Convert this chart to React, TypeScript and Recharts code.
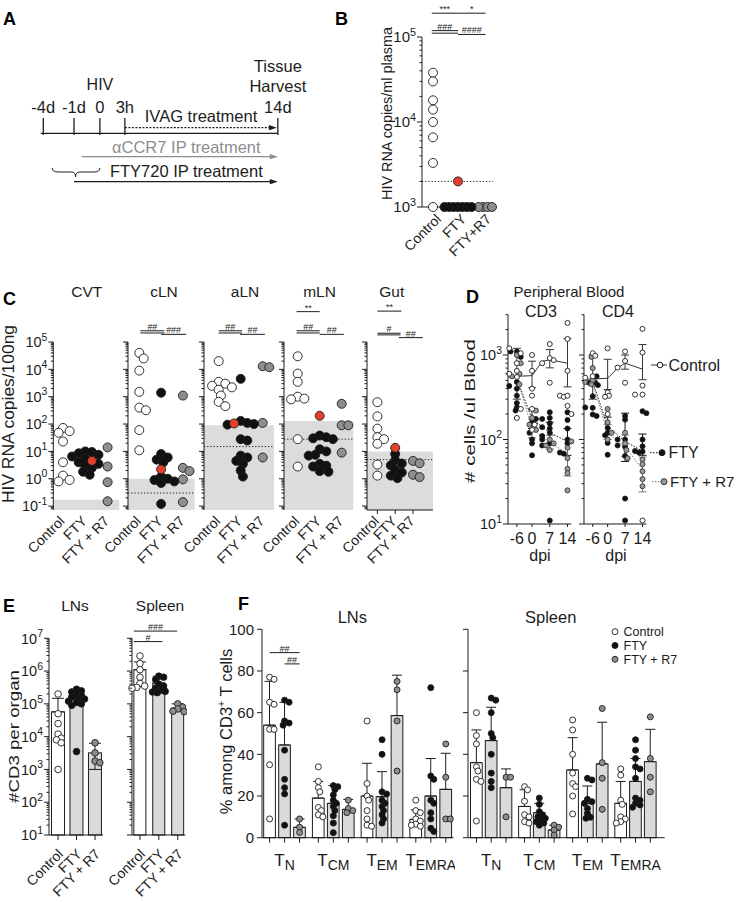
import React from 'react';
import {
  ComposedChart, Scatter, Bar, Line, XAxis, YAxis, ReferenceArea, ReferenceLine, ReferenceDot, ErrorBar,
} from 'recharts';

const FONT = '"Liberation Sans", Arial, Helvetica, sans-serif';
const INK = '#1c1c1c';
const WHITE = '#ffffff';
const BLACK = '#111111';
const GREY = '#8e8e8e';
const RED = '#e2402c';
const BAR_GREY = '#dadada';
const LOD_GREY = '#dcdcdc';

// ---------- A: treatment timeline ----------
const timelineLabels = ['-4d', '-1d', '0', '3h', '14d'];
const timelineSlots = [0, 0.96, 1.77, 2.55, 7.33];

// ---------- B: plasma viral load ----------
const bGroups = ['Control', 'FTY', 'FTY+R7'];
const bControl = [38000, 30000, 18000, 14000, 10000, 6600, 3300, 1000];
const bFty = [1000, 1000, 1000, 1000, 1000, 1000, 1000];
const bFtyRed = [2000];
const bR7 = [1000, 1000, 1000, 1000];
const bLimit = 2000;
const bSig = [
  { x1: -0.05, x2: 1, y: 5.28, t: '***' },
  { x1: 1, x2: 2.1, y: 5.28, t: '*' },
  { x1: -0.05, x2: 1, y: 5.075, t: '###' },
  { x1: -0.05, x2: 1, y: 5.045, t: '' },
  { x1: 1, x2: 2.1, y: 5.03, t: '####' },
];

// ---------- C: tissue viral RNA ----------
const cGroups = ['Control', 'FTY', 'FTY + R7'];
const cTissues = ['CVT', 'cLN', 'aLN', 'mLN', 'Gut'];
const cControl = [
  [72, 55, 48, 23, 4, 1.3, 0.9, 0.8],
  [40000, 25000, 9000, 1500, 400, 320, 60, 11],
  [20000, 3500, 3000, 2500, 2200, 1800, 1100, 650, 450],
  [30000, 7000, 3500, 1000, 850, 800, 28, 2.8],
  [630, 190, 68, 33, 28, 19, 3.3, 1.3],
];
const cFty = [
  [10, 9.5, 8.5, 7.5, 6.5, 5.5, 4, 3.5, 3, 2.5, 1.8, 1.4],
  [1400, 8, 6, 5, 4, 1.2, 1.0, 0.9, 0.8, 0.7, 0.12],
  [4500, 130, 110, 100, 95, 28, 25, 7, 6, 4.5, 3.5, 2, 1.2],
  [38, 33, 30, 28, 12, 10, 7.5, 7, 3.5, 3, 2.8, 1.9, 1.8],
  [8, 4.7, 3.6, 3.1, 2.1, 1.7, 1.3, 1.05],
];
const cFtyRed = [4.5, 2.2, 105, 200, 13.5];
const cR7 = [
  [14, 2.8, 0.75, 0.15],
  [1100, 2.5, 1.9, 0.95, 0.14],
  [13000, 12000, 110, 6],
  [550, 90, 90, 9],
  [4.5, 3.7, 1.4, 1.15],
];
const cDetection = [0.17, 1.0, 90, 130, 10];
const cDotted = [null, 0.3, 15, 28, 5];
const cSig = [
  [],
  [{ x1: 0.05, x2: 1.15, y: 5.41, t: '##' }, { x1: 0.05, x2: 1.15, y: 5.33, t: '' }, { x1: 1.0, x2: 2.15, y: 5.28, t: '###' }],
  [{ x1: 0, x2: 1.06, y: 5.41, t: '##' }, { x1: 0, x2: 1.06, y: 5.33, t: '' }, { x1: 0.97, x2: 2.1, y: 5.28, t: '##' }],
  [{ x1: -0.05, x2: 1, y: 6.11, t: '**' }, { x1: -0.05, x2: 1, y: 5.41, t: '##' }, { x1: -0.05, x2: 1, y: 5.33, t: '' }, { x1: 1, x2: 2.1, y: 5.28, t: '##' }],
  [{ x1: 0, x2: 1.35, y: 6.13, t: '**' }, { x1: 0, x2: 1.3, y: 5.32, t: '#' }, { x1: 0, x2: 1.3, y: 5.26, t: '' }, { x1: 1.2, x2: 2.55, y: 5.16, t: '##' }],
];

// ---------- D: peripheral blood ----------
const dpiDays = [-9, -6, 0, 4, 7, 11, 14];
const dpiTicks = [-6, 0, 7, 14];
const cd3CtrlMean = [560, 560, 570, 840, 880, null, 800];
const cd3FtyMean = [560, 520, 175, null, 120, null, 95];
const cd3R7Mean = [560, 540, 135, null, 92, null, 68];
const cd3CtrlErr = [null, [260, 640], [160, 275], null, [175, 280], null, [380, 760]];
const cd3FtyErr = [null, null, [40, 50], null, [30, 40], null, [30, 40]];
const cd3R7Err = [null, null, [30, 40], null, [15, 20], null, [31, 32]];
const cd3CtrlPts = [[1200, 600], [1050, 800, 650, 550, 230, 180], [1000, 650, 400, 330, 230, 150, 130], [800], [1350, 920, 870, 470], [330, 320], [2400, 1550, 650, 330, 250, 200]];
const cd3FtyPts = [[1100, 430], [1100, 950, 480, 400, 330, 270, 240, 220], [175, 160, 120, 100, 90, 65], [175, 140, 110, 100, 85], [210, 180, 155, 135, 120, 90, 11], [70, 68], [210, 170, 135, 100, 90]];
const cd3R7Pts = [[560], [1000, 800, 600, 450], [220, 180, 150, 130], [], [100, 90, 85, 75], [], [95, 80, 60, 45, 40, 25]];
const cd4CtrlMean = [520, 520, 530, 700, 800, null, 680];
const cd4FtyMean = [470, 480, 144, null, 95, null, 73];
const cd4R7Mean = [470, 460, 120, null, 83, null, 44];
const cd4CtrlErr = [null, [220, 480], [140, 360], null, [120, 200], null, [170, 650]];
const cd4FtyErr = [null, null, [30, 40], null, [40, 110], null, [8, 43]];
const cd4R7Err = [null, null, [20, 30], null, [20, 30], null, [20, 18]];
const cd4CtrlPts = [[540], [1050, 980, 560], [1200, 360, 330, 320, 200], [710], [1100, 850, 470], [340], [2040, 1070, 435, 340, 11]];
const cd4FtyPts = [[470, 240], [560, 470, 440, 325, 237, 198, 190], [137, 120, 112, 91, 66], [100, 85], [190, 172, 100, 82, 64, 20, 11], [73, 70], [216, 205, 100, 83, 72]];
const cd4R7Pts = [[480], [950, 700, 500, 450], [230, 160, 120, 100], [], [120, 90, 75, 60], [], [58, 51, 42, 34, 28]];
const dLegend = ['Control', 'FTY', 'FTY + R7'];

// ---------- E: CD3 counts per organ ----------
const eLnMean = [57000, 150000, 3200];
const eLnErr = [[0, 91000], [0, 130000], [2200, 3100]];
const eLnCtrl = [200000, 50000, 25000, 12000, 9000, 8000, 6500, 1000];
const eLnFty = [280000, 250000, 230000, 200000, 180000, 160000, 150000, 140000, 120000, 110000, 100000, 90000, 3500];
const eLnR7 = [6500, 3200, 1800, 1600];
const eSpMean = [1100000, 430000, 74000];
const eSpErr = [[0, 800000], [0, 270000], [0, 26000]];
const eSpCtrl = [2900000, 1700000, 1100000, 650000, 420000, 350000, 320000, 300000];
const eSpFty = [700000, 650000, 550000, 400000, 350000, 300000, 260000, 240000, 230000, 220000];
const eSpR7 = [100000, 80000, 70000, 60000, 58000];
const eSpSig = [{ x1: -0.32, x2: 1.97, y: 7.22, t: '###' }, { x1: -0.33, x2: 1.19, y: 6.9, t: '#' }];

// ---------- F: T cell subsets (% of CD3+) ----------
const subsetNames = ['N', 'CM', 'EM', 'EMRA'];
const fLnMeanCtrl = [54, 19, 20, 8.8];
const fLnMeanFty = [44.5, 16.5, 19.7, 20];
const fLnMeanR7 = [5, 13.6, 58.6, 23.2];
const fLnErrCtrl = [21, 8, 15.7, 4.5];
const fLnErrFty = [20.5, 8.5, 12, 18];
const fLnErrR7 = [4, 4.8, 19.4, 17.3];
const fLnCtrl = [[77, 76, 65, 64, 52, 52, 35, 9], [34, 27, 24, 22, 14.5, 13, 11, 10], [56, 26, 20, 18, 13, 9, 6, 5.5], [18, 13, 12, 9, 8, 6.5, 6, 5.5]];
const fLnFty = [[66, 65, 56, 55, 54, 42, 28, 24, 21, 6], [25, 24.5, 23, 20.5, 18, 16.5, 15, 13, 10.5, 7, 2.4], [47, 40, 22, 21, 18, 16.5, 15, 13, 11, 9, 7], [72, 29.6, 28, 18, 16.5, 12, 9, 4.5, 3]];
const fLnR7 = [[9, 5, 2.5], [18, 14, 13, 12], [75, 71, 56, 32], [45, 29, 9, 9]];
const fSpMeanCtrl = [36, 15, 32.5, 16.5];
const fSpMeanFty = [46.6, 12, 16.5, 27];
const fSpMeanR7 = [24, 3.7, 35.4, 36.5];
const fSpErrCtrl = [15.7, 8, 15.5, 10.5];
const fSpErrFty = [16, 4.5, 8.3, 11];
const fSpErrR7 = [9, 2.3, 20, 15.5];
const fSpCtrl = [[60, 49, 45, 34, 32, 28, 27, 8], [24.5, 23, 17.5, 11, 10, 7.7, 7], [56.5, 51.7, 40, 31, 26, 24.5, 20, 11.4], [33, 30, 18, 16, 10, 9, 7.7, 7]];
const fSpFty = [[67, 66, 60, 50, 48, 40, 31, 27, 24], [19, 16, 12.5, 11, 10, 9.3, 8.5, 7.7, 7, 6], [28.5, 27.7, 18.4, 17.3, 16.5, 14, 11.7, 9.8, 9.3], [47, 42, 38, 34, 33, 28.5, 19, 18, 16.5, 15.7, 14.6]];
const fSpR7 = [[29, 29, 10], [6, 5, 3.7, 1.3], [62, 36, 28.5, 13.6], [58, 38, 29, 22]];
const fLnSig = [{ x1: 0, x2: 2, y: 88.8, t: '##' }, { x1: 1, x2: 2, y: 83.4, t: '##' }];
const fPctTicks = [0, 20, 40, 60, 80, 100];
const fLegend = ['Control', 'FTY', 'FTY + R7'];

// ---------- helpers ----------
type Sig = { x1: number; x2: number; y: number; t: string };

// simple deterministic beeswarm: spreads overlapping dots sideways
function swarm(vals: number[], center: number, pxPerX: number, yPx: (v: number) => number, step: number, minD: number, maxSteps: number) {
  const order = vals.map((_, i) => i).sort((a, b) => vals[b] - vals[a]);
  const placed: { px: number; py: number }[] = [];
  const out = vals.map((v) => ({ x: center, y: v }));
  for (const i of order) {
    const py = yPx(vals[i]);
    let best = 0;
    let bestD = -1;
    for (let k = 0; k <= 2 * maxSteps; k++) {
      const off = (k % 2 === 1 ? 1 : -1) * Math.ceil(k / 2) * step;
      let d = Infinity;
      for (const q of placed) d = Math.min(d, Math.hypot(q.px - off, q.py - py));
      if (d >= minD) { best = off; bestD = d; break; }
      if (d > bestD) { bestD = d; best = off; }
    }
    placed.push({ px: best, py });
    out[i] = { x: center + best / pxPerX, y: vals[i] };
  }
  return out;
}

function logTicks(lo: number, hi: number) {
  const out: number[] = [];
  for (let k = Math.floor(Math.log10(lo)); k <= Math.ceil(Math.log10(hi)); k++) {
    for (let m = 1; m < 10; m++) {
      const v = Number((m * Math.pow(10, k)).toPrecision(4));
      if (v >= lo * 0.9999 && v <= hi * 1.0001) out.push(v);
    }
  }
  return out;
}

const logTick = (labels: boolean, fs: number) => (p: any) => {
  const v = Number(p.payload.value);
  const k = Math.round(Math.log10(v));
  const major = Math.abs(v / Math.pow(10, k) - 1) < 1e-6;
  const len = major ? 5 : 2.5;
  return (
    <g>
      <line x1={p.x - len} x2={p.x} y1={p.y} y2={p.y} stroke={INK} strokeWidth={1} />
      {major && labels ? (
        <text x={p.x - 6} y={p.y + fs * 0.36} textAnchor="end" fontSize={fs} fontFamily={FONT} fill={INK}>
          10<tspan dy={-fs * 0.45} fontSize={fs * 0.72}>{k}</tspan>
        </text>
      ) : null}
    </g>
  );
};

const rotTick = (names: string[], fs: number, dx: number, dy: number, tick: number) => (p: any) => {
  const i = Math.round(Number(p.payload.value));
  const x = p.x + dx;
  const y = p.y + dy;
  return (
    <g>
      {tick > 0 ? <line x1={p.x} x2={p.x} y1={p.y} y2={p.y + tick} stroke={INK} strokeWidth={1} /> : null}
      <text x={x} y={y} transform={`rotate(-45 ${x} ${y})`} textAnchor="end" fontSize={fs} fontFamily={FONT} fill={INK}>{names[i]}</text>
    </g>
  );
};

const dot = (fill: string, r: number, stroke = INK, sw = 0.9) => (p: any) =>
  p.cx == null ? <g /> : <circle cx={p.cx} cy={p.cy} r={r} fill={fill} stroke={stroke} strokeWidth={sw} />;

// bars drawn centred on their numeric x position with a fixed width
const barShape = (w: number) => (s: any) =>
  s.height == null ? <g /> : (
    <rect x={s.x + (s.width || 0) / 2 - w / 2} y={s.y} width={w} height={Math.max(0, s.height)}
      fill={s.payload && s.payload.fill ? s.payload.fill : BAR_GREY} stroke={INK} strokeWidth={1} />
  );

const sigLines = (sig: Sig[], toY: (v: number) => number, key: string) =>
  sig.map((s, i) => (
    <ReferenceLine
      key={`${key}${i}`}
      segment={[{ x: s.x1, y: toY(s.y) }, { x: s.x2, y: toY(s.y) }]}
      stroke={INK}
      strokeWidth={1}
      ifOverflow="visible"
      label={s.t ? { value: s.t, position: 'top', fontSize: 9, fill: INK, offset: 1, fontFamily: FONT } : undefined}
    />
  ));

const textShape = (txt: string, fs: number, fill = INK) => (p: any) => (
  <text x={p.cx} y={p.cy} textAnchor="middle" fontSize={fs} fontFamily={FONT} fill={fill}>{txt}</text>
);

const arrowShape = (color: string, dash?: string) => (p: any) => (
  <g>
    <line x1={p.x1} y1={p.y1} x2={p.x2 - 6} y2={p.y2} stroke={color} strokeWidth={1.3} strokeDasharray={dash} />
    <polygon points={`${p.x2},${p.y2} ${p.x2 - 8},${p.y2 - 2.6} ${p.x2 - 8},${p.y2 + 2.6}`} fill={color} />
  </g>
);

const braceShape = (tip: number) => (p: any) => {
  const y = p.y1;
  const x1 = p.x1;
  const x2 = p.x2;
  const m = x1 + (x2 - x1) * tip;
  return (
    <path
      d={`M${x1},${y} Q${x1},${y + 4} ${x1 + 6},${y + 4} L${m - 4},${y + 4} Q${m},${y + 4} ${m},${y + 9} Q${m},${y + 4} ${m + 4},${y + 4} L${x2 - 6},${y + 4} Q${x2},${y + 4} ${x2},${y}`}
      fill="none" stroke={INK} strokeWidth={1}
    />
  );
};

// ---------- A ----------
function Timeline() {
  const main = 8.33;
  const anchorData = timelineSlots.map((s) => ({ x: s, y: main }));
  return (
    <div style={{ position: 'absolute', left: 10, top: 50 }}>
      <ComposedChart width={320} height={150} data={anchorData} margin={{ top: 0, right: 0, bottom: 0, left: 0 }}>
        <XAxis dataKey="x" type="number" domain={[-1.04, 8.96]} allowDataOverflow hide />
        <YAxis type="number" domain={[0, 15]} allowDataOverflow reversed hide />
        <Line dataKey="y" stroke="none" dot={false} isAnimationActive={false} />
        <ReferenceLine segment={[{ x: -0.08, y: main }, { x: timelineSlots[4], y: main }]} stroke={INK} strokeWidth={1.3} ifOverflow="visible" />
        {timelineSlots.map((s, i) => (
          <ReferenceLine key={`tk${i}`} segment={[{ x: s, y: 6.8 }, { x: s, y: 8.5 }]} stroke={INK} strokeWidth={1.3} ifOverflow="visible" />
        ))}
        {timelineSlots.map((s, i) => (
          <ReferenceDot key={`tl${i}`} x={s} y={6.3} r={0} ifOverflow="visible" shape={textShape(timelineLabels[i], 16.5)} />
        ))}
        <ReferenceDot x={timelineSlots[2]} y={4.0} r={0} ifOverflow="visible" shape={textShape('HIV', 16)} />
        <ReferenceDot x={timelineSlots[4]} y={2.2} r={0} ifOverflow="visible" shape={textShape('Tissue', 16.5)} />
        <ReferenceDot x={timelineSlots[4]} y={4.2} r={0} ifOverflow="visible" shape={textShape('Harvest', 16.5)} />
        <ReferenceLine segment={[{ x: timelineSlots[3], y: 7.77 }, { x: 7.3, y: 7.77 }]} ifOverflow="visible" shape={arrowShape(INK, '2 1.5')} />
        <ReferenceDot x={4.93} y={7.17} r={0} ifOverflow="visible" shape={textShape('IVAG treatment', 16.5)} />
        <ReferenceLine segment={[{ x: 1.2, y: 10.67 }, { x: timelineSlots[4], y: 10.67 }]} ifOverflow="visible" shape={arrowShape(GREY)} />
        <ReferenceDot x={4.47} y={10.33} r={0} ifOverflow="visible" shape={textShape('\u03B1CCR7 IP treatment', 16.5, GREY)} />
        <ReferenceLine segment={[{ x: timelineSlots[1], y: 13.17 }, { x: timelineSlots[4], y: 13.17 }]} ifOverflow="visible" shape={arrowShape(INK)} />
        <ReferenceDot x={4.47} y={12.67} r={0} ifOverflow="visible" shape={textShape('FTY720 IP treatment', 16.5)} />
        <ReferenceLine segment={[{ x: 0.28, y: 11.8 }, { x: timelineSlots[2], y: 11.8 }]} ifOverflow="visible" shape={braceShape(0.49)} />
      </ComposedChart>
    </div>
  );
}

// ---------- B / C dot plots on log axis ----------
function LogDotPanel(p: any) {
  const { left, top, yw, plotW, mr, mt, plotH, xh, yDomain, xDomain, groups, red, names, lod, dotted, sig, showY, tickFs, r, step, minD, axisLine, tickLen, lab } = p;
  const pxX = plotW / (xDomain[1] - xDomain[0]);
  const dec = plotH / (Math.log10(yDomain[1]) - Math.log10(yDomain[0]));
  const yPx = (v: number) => Math.log10(v) * dec;
  const ctrl = swarm(groups[0], 0, pxX, yPx, step, minD, 6);
  const ftyAll = swarm([...groups[1], ...red], 1, pxX, yPx, step, minD, 6);
  const fty = ftyAll.slice(0, groups[1].length);
  const redPts = ftyAll.slice(groups[1].length);
  const r7 = swarm(groups[2], 2, pxX, yPx, step, minD, 6);
  return (
    <div style={{ position: 'absolute', left, top }}>
      <ComposedChart width={yw + plotW + mr} height={mt + plotH + xh} margin={{ top: mt, right: mr, bottom: 0, left: 0 }}>
        <XAxis dataKey="x" type="number" domain={xDomain} ticks={[0, 1, 2]} interval={0} height={xh}
          axisLine={axisLine ? { stroke: INK, strokeWidth: 1 } : false} tickLine={false} tickSize={0} tickMargin={0}
          tick={rotTick(names, lab.fs, lab.dx, lab.dy, tickLen)} />
        <YAxis type="number" scale="log" domain={yDomain} ticks={logTicks(yDomain[0], yDomain[1])} interval={0} width={yw}
          axisLine={{ stroke: INK, strokeWidth: 1 }} tickLine={false} tickSize={0} tickMargin={0} tick={logTick(showY, tickFs)} />
        {lod ? <ReferenceArea x1={xDomain[0]} x2={xDomain[1]} y1={yDomain[0]} y2={lod} fill={LOD_GREY} fillOpacity={1} stroke="none" ifOverflow="visible" /> : null}
        {dotted ? <ReferenceLine y={dotted} stroke={INK} strokeWidth={1} strokeDasharray="1.2 2" /> : null}
        {sigLines(sig, (v) => Math.pow(10, v), 'sig')}
        <Scatter data={ctrl} dataKey="y" shape={dot(WHITE, r)} isAnimationActive={false} />
        <Scatter data={r7} dataKey="y" shape={dot(GREY, r)} isAnimationActive={false} />
        <Scatter data={fty} dataKey="y" shape={dot(BLACK, r)} isAnimationActive={false} />
        <Scatter data={redPts} dataKey="y" shape={dot(RED, r)} isAnimationActive={false} />
      </ComposedChart>
    </div>
  );
}

const cAxisX = [53.3, 127.7, 204, 284, 367.3];
const cFirst = [63, 139, 218.7, 297.7, 377.7];
const cStep = [22.3, 21.8, 22, 22, 17.8];
const cRight = [119.3, 194.3, 274, 353.3, 433.3];

// ---------- D ----------
const dpiTick = (p: any) => (
  <g>
    <line x1={p.x} x2={p.x} y1={p.y} y2={p.y + 3} stroke={INK} />
    <text x={p.x} y={p.y + 20} textAnchor="middle" fontSize={16} fontFamily={FONT} fill={INK}>{p.payload.value}</text>
  </g>
);

function BloodPanel(p: any) {
  const mt = 14.7;
  const plotH = 209.3;
  const xh = 40;
  const mr = 12;
  const xDomain = [-9.5, 15.5];
  const pxX = p.plotW / (xDomain[1] - xDomain[0]);
  const dec = plotH / Math.log10(300);
  const yPx = (v: number) => Math.log10(v) * dec;
  const cPts: any[] = [];
  const fPts: any[] = [];
  const rPts: any[] = [];
  dpiDays.forEach((d, i) => {
    const a = p.ctrlPts[i];
    const b = p.ftyPts[i];
    const c = p.r7Pts[i];
    const all = swarm([...a, ...b, ...c], d, pxX, yPx, 1.3, 3.4, 7);
    cPts.push(...all.slice(0, a.length));
    fPts.push(...all.slice(a.length, a.length + b.length));
    rPts.push(...all.slice(a.length + b.length));
  });
  const data = dpiDays.map((d, i) => ({
    x: d, ctrl: p.ctrl[i], fty: p.fty[i], r7: p.r7[i],
    ctrlErr: p.ctrlErr[i] || undefined, ftyErr: p.ftyErr[i] || undefined, r7Err: p.r7Err[i] || undefined,
  }));
  return (
    <div style={{ position: 'absolute', left: p.left, top: 300 }}>
      <ComposedChart width={p.yw + p.plotW + mr} height={mt + plotH + xh} data={data} margin={{ top: mt, right: mr, bottom: 0, left: 0 }}>
        <XAxis dataKey="x" type="number" domain={xDomain} ticks={dpiTicks} interval={0} height={xh}
          axisLine={{ stroke: INK }} tickLine={false} tickSize={0} tickMargin={0} tick={dpiTick} />
        <YAxis type="number" scale="log" domain={[10, 3000]} ticks={logTicks(10, 3000)} interval={0} width={p.yw}
          axisLine={{ stroke: INK }} tickLine={false} tickSize={0} tickMargin={0} tick={logTick(p.labels, 14.5)} />
        <Scatter data={fPts} dataKey="y" shape={dot(BLACK, 2.5)} isAnimationActive={false} />
        <Scatter data={rPts} dataKey="y" shape={dot('#9a9a9a', 2.5, '#333')} isAnimationActive={false} />
        <Scatter data={cPts} dataKey="y" shape={dot(WHITE, 2.5)} isAnimationActive={false} />
        <Line dataKey="fty" stroke={BLACK} strokeWidth={1} strokeDasharray="1.5 1.5" dot={false} connectNulls isAnimationActive={false}>
          <ErrorBar dataKey="ftyErr" width={4} stroke={BLACK} strokeWidth={1} isAnimationActive={false} />
        </Line>
        <Line dataKey="r7" stroke="#777" strokeWidth={1} strokeDasharray="1.5 1.5" dot={false} connectNulls isAnimationActive={false}>
          <ErrorBar dataKey="r7Err" width={4} stroke="#777" strokeWidth={1} isAnimationActive={false} />
        </Line>
        <Line dataKey="ctrl" stroke="#333" strokeWidth={1} dot={false} connectNulls isAnimationActive={false}>
          <ErrorBar dataKey="ctrlErr" width={4} stroke="#333" strokeWidth={1} isAnimationActive={false} />
        </Line>
      </ComposedChart>
    </div>
  );
}

// ---------- E ----------
function OrganPanel(p: any) {
  const mt = 23.3;
  const plotH = 196.7;
  const xh = 80;
  const mr = 2;
  const yDomain = [10, 1e7];
  const pxX = p.plotW / (p.xDomain[1] - p.xDomain[0]);
  const dec = plotH / 6;
  const yPx = (v: number) => Math.log10(v) * dec;
  const barData = p.means.map((m: number, i: number) => ({ x: i, y: m, err: p.errs[i], fill: i === 0 ? WHITE : BAR_GREY }));
  const pts = p.groups.map((g: number[], i: number) => swarm(g, i, pxX, yPx, 1.6, 4.6, 5));
  return (
    <div style={{ position: 'absolute', left: p.axisX - p.yw, top: 615 }}>
      <ComposedChart width={p.yw + p.plotW + mr} height={mt + plotH + xh} data={barData} margin={{ top: mt, right: mr, bottom: 0, left: 0 }}>
        <XAxis dataKey="x" type="number" domain={p.xDomain} ticks={[0, 1, 2]} interval={0} height={xh}
          axisLine={{ stroke: INK }} tickLine={false} tickSize={0} tickMargin={0} tick={rotTick(cGroups, 14, 6, 20, 5)} />
        <YAxis type="number" scale="log" domain={yDomain} ticks={logTicks(10, 1e7)} interval={0} width={p.yw}
          axisLine={{ stroke: INK }} tickLine={false} tickSize={0} tickMargin={0} tick={logTick(p.labels, 14.5)} />
        <Bar dataKey="y" barSize={p.barSize} shape={barShape(p.barSize)} isAnimationActive={false}>
          <ErrorBar dataKey="err" width={6} stroke={INK} strokeWidth={1} isAnimationActive={false} />
        </Bar>
        {sigLines(p.sig, (v) => Math.pow(10, v), 'esig')}
        <Scatter data={pts[0]} dataKey="y" shape={dot(WHITE, 3.3)} isAnimationActive={false} />
        <Scatter data={pts[1]} dataKey="y" shape={dot(BLACK, 3.3)} isAnimationActive={false} />
        <Scatter data={pts[2]} dataKey="y" shape={dot(GREY, 3.3)} isAnimationActive={false} />
      </ComposedChart>
    </div>
  );
}

// ---------- F ----------
const fPos = (g: number, s: number) => g * 3.25 + s;
const fTicks = [0, 1, 2, 3].flatMap((g) => [0, 1, 2].map((s) => fPos(g, s)));

const fTick = (p: any) => {
  const i = fTicks.findIndex((t) => Math.abs(t - Number(p.payload.value)) < 1e-6);
  return (
    <g>
      <line x1={p.x} x2={p.x} y1={p.y} y2={p.y + 5} stroke={INK} />
      {i % 3 === 1 ? (
        <text x={p.x} y={p.y + 28} textAnchor="middle" fontFamily={FONT} fill={INK}>
          <tspan fontSize={17}>T</tspan>
          <tspan fontSize={14} dy={4}>{subsetNames[Math.floor(i / 3)]}</tspan>
        </text>
      ) : null}
    </g>
  );
};

const pctTick = (labels: boolean) => (p: any) => (
  <g>
    <line x1={p.x - 5} x2={p.x} y1={p.y} y2={p.y} stroke={INK} />
    {labels ? (
      <text x={p.x - 8} y={p.y + 5.3} textAnchor="end" fontSize={15} fontFamily={FONT} fill={INK}>{p.payload.value}</text>
    ) : null}
  </g>
);

function SubsetPanel(p: any) {
  const mt = 29.3;
  const plotH = 208.4;
  const xh = 45;
  const pxX = p.plotW / (p.xDomain[1] - p.xDomain[0]);
  const yPx = (v: number) => (v * plotH) / 100;
  const means = [p.meanCtrl, p.meanFty, p.meanR7];
  const errs = [p.errCtrl, p.errFty, p.errR7];
  const raw = [p.ctrl, p.fty, p.r7];
  const barData: any[] = [];
  const pts: any[][] = [[], [], []];
  for (let g = 0; g < 4; g++) {
    for (let s = 0; s < 3; s++) {
      barData.push({ x: fPos(g, s), y: means[s][g], err: [0, errs[s][g]], fill: s === 0 ? WHITE : BAR_GREY });
      pts[s].push(...swarm(raw[s][g], fPos(g, s), pxX, yPx, 1.5, 4.3, 4));
    }
  }
  return (
    <div style={{ position: 'absolute', left: p.left, top: 600 }}>
      <ComposedChart width={p.yw + p.plotW + p.mr} height={mt + plotH + xh} data={barData} margin={{ top: mt, right: p.mr, bottom: 0, left: 0 }}>
        <XAxis dataKey="x" type="number" domain={p.xDomain} ticks={fTicks} interval={0} height={xh}
          axisLine={{ stroke: INK }} tickLine={false} tickSize={0} tickMargin={0} tick={fTick} />
        <YAxis type="number" domain={[0, 100]} ticks={fPctTicks} interval={0} width={p.yw}
          axisLine={{ stroke: INK }} tickLine={false} tickSize={0} tickMargin={0} tick={pctTick(p.labels)} />
        <Bar dataKey="y" barSize={12} shape={barShape(11.7)} isAnimationActive={false}>
          <ErrorBar dataKey="err" width={5} stroke={INK} strokeWidth={1} isAnimationActive={false} />
        </Bar>
        {sigLines(p.sig, (v) => v, 'fsig')}
        <Scatter data={pts[0]} dataKey="y" shape={dot(WHITE, 3)} isAnimationActive={false} />
        <Scatter data={pts[1]} dataKey="y" shape={dot(BLACK, 3)} isAnimationActive={false} />
        <Scatter data={pts[2]} dataKey="y" shape={dot(GREY, 3)} isAnimationActive={false} />
      </ComposedChart>
    </div>
  );
}

// ---------- free text (titles, axis titles, legends) ----------
const VLabel = ({ x, y, fs, len, children }: any) => (
  <text x={0} y={0} transform={`translate(${x},${y}) rotate(-90)`} textAnchor="middle" dominantBaseline="central"
    fontSize={fs} fontFamily={FONT} fill={INK} textLength={len} lengthAdjust={len ? 'spacingAndGlyphs' : undefined}>
    {children}
  </text>
);

function Overlay() {
  const letters: [string, number, number][] = [['A', 3, 25], ['B', 335, 25], ['C', 3, 305], ['D', 466, 303], ['E', 3, 612], ['F', 238, 610]];
  const cTitleX = [86.7, 164, 245, 319.5, 391.7];
  const T = (x: number, y: number, s: string, fs: number, anchor = 'middle') => (
    <text x={x} y={y} fontSize={fs} fontFamily={FONT} fill={INK} textAnchor={anchor}>{s}</text>
  );
  return (
    <svg width={737} height={903} style={{ position: 'absolute', left: 0, top: 0 }}>
      {letters.map(([s, x, y]) => (
        <text key={s} x={x} y={y} fontSize={18} fontWeight="bold" fontFamily={FONT} fill="#000">{s}</text>
      ))}
      {cTissues.map((t, i) => <g key={t}>{T(cTitleX[i], 297, t, 15.5)}</g>)}
      {T(569, 297, 'Peripheral Blood', 15)}
      {T(541, 317, 'CD3', 16)}
      {T(618, 317, 'CD4', 16)}
      {T(540, 561, 'dpi', 16)}
      {T(616, 561, 'dpi', 16)}
      {T(75, 610.7, 'LNs', 15.5)}
      {T(160, 610.7, 'Spleen', 15.5)}
      {T(352.3, 623.3, 'LNs', 16.5)}
      {T(550.7, 623.3, 'Spleen', 16.5)}
      <VLabel x={387} y={113.5} fs={14.5} len={173}>HIV RNA copies/ml plasma</VLabel>
      <VLabel x={8} y={414} fs={16} len={178}>HIV RNA copies/100ng</VLabel>
      <VLabel x={469} y={411} fs={15.5} len={144}># cells /ul Blood</VLabel>
      <VLabel x={13} y={736.5} fs={15.5} len={133}>#CD3 per organ</VLabel>
      <text x={0} y={0} transform="translate(226,731.5) rotate(-90)" textAnchor="middle" dominantBaseline="central" fontSize={16.5} fontFamily={FONT} fill={INK}>
        % among CD3<tspan dy={-5} fontSize={11}>+</tspan><tspan dy={5}> T cells</tspan>
      </text>
      {/* D legend */}
      <line x1={651} x2={667} y1={365} y2={365} stroke="#333" />
      <circle cx={660} cy={365} r={2.8} fill={WHITE} stroke={INK} />
      {T(668.5, 370.8, dLegend[0], 16, 'start')}
      <line x1={650} x2={660} y1={452.7} y2={452.7} stroke={BLACK} strokeDasharray="1.5 1.5" />
      <circle cx={662} cy={452.7} r={3} fill={BLACK} stroke={INK} />
      {T(668.5, 458.3, dLegend[1], 16, 'start')}
      <line x1={652} x2={662} y1={481.7} y2={481.7} stroke="#777" strokeDasharray="1.5 1.5" />
      <circle cx={664} cy={481.7} r={3} fill="#9a9a9a" stroke="#333" />
      {T(670, 487, dLegend[2], 15, 'start')}
      {/* F legend */}
      {fLegend.map((n, i) => (
        <g key={n}>
          <circle cx={615} cy={631.7 + i * 13.8} r={3} fill={[WHITE, BLACK, GREY][i]} stroke={INK} strokeWidth={0.9} />
          {T(623.5, 636 + i * 13.8, n, 12.5, 'start')}
        </g>
      ))}
    </svg>
  );
}

export default function App() {
  return (
    <div style={{ position: 'absolute', left: 0, top: 0, width: 737, height: 903, background: '#fff', overflow: 'hidden', fontFamily: FONT }}>
      <Overlay />
      <Timeline />
      <LogDotPanel
        left={372} top={0} yw={50} plotW={71} mr={5} mt={37} plotH={170} xh={63}
        yDomain={[1000, 100000]} xDomain={[-0.44, 2.4]}
        groups={[bControl, bFty, bR7]} red={bFtyRed} names={bGroups}
        lod={null} dotted={bLimit} sig={bSig} showY tickFs={15} r={4.5} step={2.25} minD={4.5}
        axisLine tickLen={0} lab={{ dx: 9, dy: 13, fs: 14 }}
      />
      {cTissues.map((t, i) => {
        const yw = i === 0 ? cAxisX[0] : 40;
        return (
          <LogDotPanel
            key={t}
            left={cAxisX[i] - yw} top={300} yw={yw} plotW={cRight[i] - cAxisX[i]} mr={2} mt={42} plotH={168} xh={68}
            yDomain={[0.072, 100000]}
            xDomain={[(cAxisX[i] - cFirst[i]) / cStep[i], (cRight[i] - cFirst[i]) / cStep[i]]}
            groups={[cControl[i], cFty[i], cR7[i]]} red={[cFtyRed[i]]} names={cGroups}
            lod={cDetection[i]} dotted={cDotted[i]} sig={cSig[i]} showY={i === 0} tickFs={14.5}
            r={4.5} step={2.2} minD={6.2} axisLine={i === 4} tickLen={i === 4 ? 4 : 0} lab={{ dx: 2.5, dy: 12, fs: 14 }}
          />
        );
      })}
      <BloodPanel left={468.3} yw={40} plotW={63.4} labels
        ctrl={cd3CtrlMean} fty={cd3FtyMean} r7={cd3R7Mean} ctrlErr={cd3CtrlErr} ftyErr={cd3FtyErr} r7Err={cd3R7Err}
        ctrlPts={cd3CtrlPts} ftyPts={cd3FtyPts} r7Pts={cd3R7Pts} />
      <BloodPanel left={576.3} yw={8} plotW={62.4} labels={false}
        ctrl={cd4CtrlMean} fty={cd4FtyMean} r7={cd4R7Mean} ctrlErr={cd4CtrlErr} ftyErr={cd4FtyErr} r7Err={cd4R7Err}
        ctrlPts={cd4CtrlPts} ftyPts={cd4FtyPts} r7Pts={cd4R7Pts} />
      <OrganPanel axisX={49} yw={49} plotW={54} xDomain={[-0.49, 2.43]} labels barSize={13}
        means={eLnMean} errs={eLnErr} groups={[eLnCtrl, eLnFty, eLnR7]} sig={[]} />
      <OrganPanel axisX={131.7} yw={40} plotW={53.3} xDomain={[-0.4, 2.4]} labels={false} barSize={12}
        means={eSpMean} errs={eSpErr} groups={[eSpCtrl, eSpFty, eSpR7]} sig={eSpSig} />
      <SubsetPanel left={221.7} yw={40} plotW={191.6} mr={2} xDomain={[-0.507, 12.27]} labels sig={fLnSig}
        meanCtrl={fLnMeanCtrl} meanFty={fLnMeanFty} meanR7={fLnMeanR7}
        errCtrl={fLnErrCtrl} errFty={fLnErrFty} errR7={fLnErrR7}
        ctrl={fLnCtrl} fty={fLnFty} r7={fLnR7} />
      <SubsetPanel left={460.3} yw={8} plotW={196.7} mr={5} xDomain={[-0.57, 12.72]} labels={false} sig={[]}
        meanCtrl={fSpMeanCtrl} meanFty={fSpMeanFty} meanR7={fSpMeanR7}
        errCtrl={fSpErrCtrl} errFty={fSpErrFty} errR7={fSpErrR7}
        ctrl={fSpCtrl} fty={fSpFty} r7={fSpR7} />
    </div>
  );
}
